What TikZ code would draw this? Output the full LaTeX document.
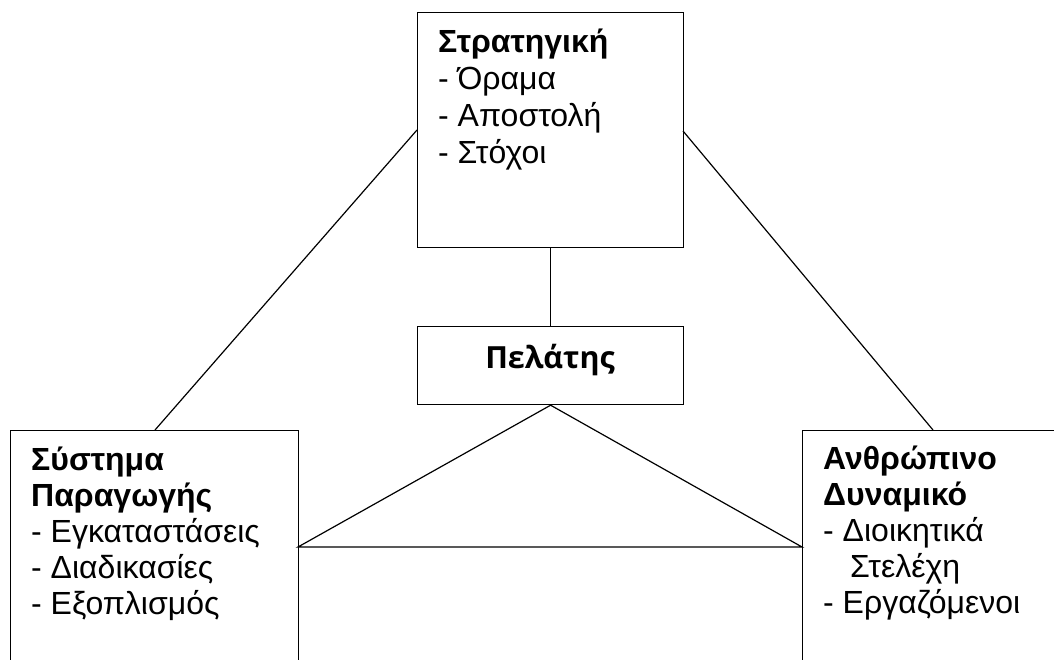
\documentclass[tikz,border=0pt]{standalone}
\usepackage{fontspec}
\setmainfont{Liberation Sans}
\newfontfamily\pelfont{Open Sans}
\begin{document}
\begin{tikzpicture}[x=1pt,y=-1pt,
  box/.style={draw, line width=1.2pt, inner sep=0pt, anchor=north west},
  lbl/.style={anchor=base west, align=left, inner sep=0pt},
  conn/.style={line width=1.2pt}]
\useasboundingbox (0,0) rectangle (1054,660);
\clip (0,0) rectangle (1054,660);
\node[box, minimum width=266pt, minimum height=235pt] (strat) at (417,12) {};
\node[box, minimum width=266pt, minimum height=78pt] (pel) at (417,326) {};
\node[box, minimum width=288pt, minimum height=300pt] (sys) at (10,430) {};
\node[box, minimum width=320pt, minimum height=300pt] (anth) at (802,430) {};
% text (anchor = baseline of the last line)
\node[lbl, font=\fontsize{32}{37}\selectfont] (tstrat) at (438,164)
  {\textbf{Στρατηγική}\\- Όραμα\\- Αποστολή\\- Στόχοι};
\node[anchor=base, inner sep=0pt, font=\pelfont\bfseries\fontsize{30.5}{37}\selectfont] (tpel) at (550,368) {Πελάτης};
\node[lbl, font=\fontsize{32}{36}\selectfont] (tsys) at (31,614)
  {\textbf{Σύστημα}\\\textbf{Παραγωγής}\\- Εγκαταστάσεις\\- Διαδικασίες\\- Εξοπλισμός};
\node[lbl, font=\fontsize{32}{36}\selectfont] (tanth) at (823,613)
  {\textbf{Ανθρώπινο}\\\textbf{Δυναμικό}\\- Διοικητικά\\\hspace*{27pt}Στελέχη\\- Εργαζόμενοι};
% connection points
\coordinate (sL) at (417,130);
\coordinate (sR) at (683,131);
\coordinate (sysT) at (155,430);
\coordinate (anthT) at (933,430);
\coordinate (sysR) at (298,547);
\coordinate (anthL) at (802,547);
\draw[conn] (strat.south) -- (pel.north);
\draw[conn] (sL) -- (sysT);
\draw[conn] (sR) -- (anthT);
\draw[conn] (pel.south) -- (sysR) -- (anthL) -- cycle;
\end{tikzpicture}
\end{document}
